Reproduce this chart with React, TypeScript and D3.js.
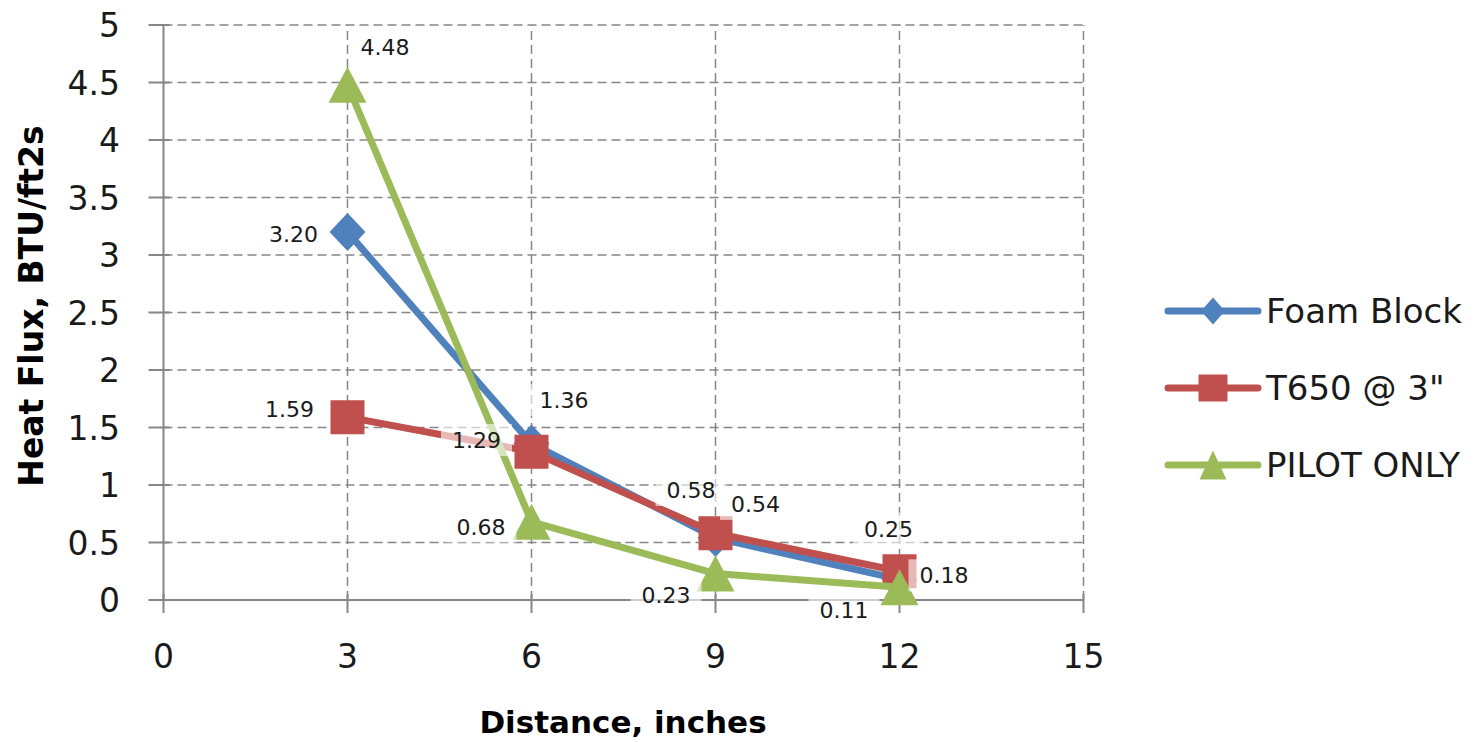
import React from 'react';
import * as d3 from 'd3';

const distances = [3, 6, 9, 12];
const foamBlock = [3.2, 1.36, 0.54, 0.18];
const t650 = [1.59, 1.29, 0.58, 0.25];
const pilotOnly = [4.48, 0.68, 0.23, 0.11];
const seriesNames = ['Foam Block', 'T650 @ 3"', 'PILOT ONLY'];
const xTicks = [0, 3, 6, 9, 12, 15];
const yTicks = [0, 0.5, 1, 1.5, 2, 2.5, 3, 3.5, 4, 4.5, 5];
const xTitle = 'Distance, inches';
const yTitle = 'Heat Flux, BTU/ft2s';

// data-label placement offsets (layout, px) relative to each point
const foamLabelOffsets = [[-54, 1.5], [32.5, -43.6], [40, -34], [44.5, -4]];
const t650LabelOffsets = [[-58, -8.6], [-55, -11.6], [-24.5, -43.3], [-11, -42.75]];
const pilotLabelOffsets = [[37.5, -38.3], [-50.5, 4.7], [-49.5, 21.5], [-55.5, 22.6]];

const W = 1483;
const H = 742;
const FONT = '"DejaVu Sans", sans-serif';
const AXIS = '#868686';

const x = d3.scaleLinear().domain([0, 15]).range([163.5, 1083.5]);
const y = d3.scaleLinear().domain([0, 5]).range([600, 25]);

type Shape = 'diamond' | 'square' | 'triangle';

function markerPath(shape: Shape, cx: number, cy: number, w: number, h: number): string {
  const p = d3.path();
  if (shape === 'diamond') {
    p.moveTo(cx, cy - h / 2);
    p.lineTo(cx + w / 2, cy);
    p.lineTo(cx, cy + h / 2);
    p.lineTo(cx - w / 2, cy);
    p.closePath();
  } else if (shape === 'square') {
    p.rect(cx - w / 2, cy - h / 2, w, h);
  } else {
    p.moveTo(cx, cy - h / 2);
    p.lineTo(cx + w / 2, cy + h / 2);
    p.lineTo(cx - w / 2, cy + h / 2);
    p.closePath();
  }
  return p.toString();
}

const series = [
  { name: seriesNames[0], values: foamBlock, color: '#4F81BD', shape: 'diamond' as Shape, mw: 36, mh: 38, lw: 24, lh: 27, offsets: foamLabelOffsets },
  { name: seriesNames[1], values: t650, color: '#C0504D', shape: 'square' as Shape, mw: 34, mh: 34, lw: 29, lh: 27, offsets: t650LabelOffsets },
  { name: seriesNames[2], values: pilotOnly, color: '#9BBB59', shape: 'triangle' as Shape, mw: 38, mh: 36, lw: 27, lh: 29, offsets: pilotLabelOffsets },
];

export default function App() {
  const line = d3
    .line<number>()
    .x((_, i) => x(distances[i]))
    .y((d) => y(d));

  const labelFont = 22;
  const legendY = [311, 388, 465];

  return (
    <svg
      width={W}
      height={H}
      viewBox={`0 0 ${W} ${H}`}
      style={{ position: 'absolute', left: 0, top: 0, background: '#fff' }}
      fontFamily={FONT}
    >
      <rect x={0} y={0} width={W} height={H} fill="#fff" />
      {/* gridlines */}
      <g stroke={AXIS} strokeWidth={1.5} strokeDasharray="9,5" fill="none">
        {yTicks.filter((t) => t > 0).map((t) => (
          <line key={'gy' + t} x1={x(0)} x2={x(15)} y1={y(t)} y2={y(t)} />
        ))}
        {xTicks.filter((t) => t > 0).map((t) => (
          <line key={'gx' + t} x1={x(t)} x2={x(t)} y1={y(0)} y2={y(5)} />
        ))}
      </g>
      {/* axes */}
      <g stroke={AXIS} strokeWidth={2}>
        <line x1={x(0)} x2={x(0)} y1={y(5)} y2={y(0)} />
        <line x1={x(0)} x2={x(15)} y1={y(0)} y2={y(0)} />
        {yTicks.map((t) => (
          <line key={'ty' + t} x1={x(0) - 15} x2={x(0) + 6} y1={y(t)} y2={y(t)} />
        ))}
        {xTicks.map((t) => (
          <line key={'tx' + t} x1={x(t)} x2={x(t)} y1={y(0) - 6} y2={y(0) + 13} />
        ))}
      </g>
      {/* tick labels */}
      <g fontSize={33} fill="#1a1a1a">
        {yTicks.map((t) => (
          <text key={'ly' + t} x={120} y={y(t) + 12} textAnchor="end">
            {String(t)}
          </text>
        ))}
        {xTicks.map((t) => (
          <text key={'lx' + t} x={x(t)} y={668} textAnchor="middle">
            {String(t)}
          </text>
        ))}
      </g>
      {/* series */}
      {series.map((s) => (
        <g key={s.name}>
          <path
            d={line(s.values) || ''}
            fill="none"
            stroke={s.color}
            strokeWidth={7}
            strokeLinecap="round"
            strokeLinejoin="round"
          />
          {s.values.map((v, i) => (
            <path key={i} d={markerPath(s.shape, x(distances[i]), y(v), s.mw, s.mh)} fill={s.color} />
          ))}
        </g>
      ))}
      {/* data labels */}
      {series.map((s) =>
        s.values.map((v, i) => {
          const cx = x(distances[i]) + s.offsets[i][0];
          const cy = y(v) + s.offsets[i][1];
          const txt = v.toFixed(2);
          const tw = 49;
          return (
            <g key={s.name + 'l' + i}>
              <rect x={cx - tw / 2 - 11} y={cy - 16} width={tw + 22} height={32} fill="#fff" fillOpacity={0.6} />
              <text x={cx} y={cy + 8} textAnchor="middle" fontSize={labelFont} fill="#1a1a1a">
                {txt}
              </text>
            </g>
          );
        })
      )}
      {/* legend */}
      {series.map((s, i) => (
        <g key={'leg' + i}>
          <line
            x1={1168}
            x2={1258}
            y1={legendY[i]}
            y2={legendY[i]}
            stroke={s.color}
            strokeWidth={7}
            strokeLinecap="round"
          />
          <path d={markerPath(s.shape, 1213, legendY[i], s.lw, s.lh)} fill={s.color} />
          <text x={1266} y={legendY[i] + 12} fontSize={34} fill="#1a1a1a">
            {s.name}
          </text>
        </g>
      ))}
      {/* titles */}
      <text x={623} y={733} textAnchor="middle" fontSize={31} fontWeight="bold" fill="#000">
        {xTitle}
      </text>
      <text
        transform={`translate(43, 306) rotate(-90)`}
        textAnchor="middle"
        fontSize={33}
        fontWeight="bold"
        fill="#000"
      >
        {yTitle}
      </text>
    </svg>
  );
}
